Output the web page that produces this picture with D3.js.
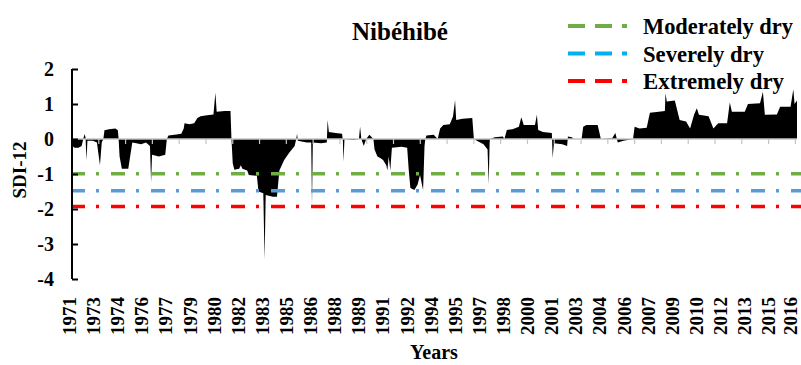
<!DOCTYPE html>
<html>
<head>
<meta charset="UTF-8">
<title>Nibéhibé SDI-12</title>
<script src="https://d3js.org/d3.v7.min.js"></script>
<style>
  body { margin: 0; background: #fff; }
  svg text { font-family: "Liberation Serif", "Times New Roman", serif; font-weight: bold; fill: #000; }
</style>
</head>
<body>
<svg id="chart" width="801" height="365"></svg>
<script>
// monthly SDI-12 series (time in decimal years, series starts July 1971)
const times = [
  1971.50, 1971.54, 1971.65, 1971.90, 1972.10, 1972.20, 1972.28, 1972.34, 1972.40, 1972.46,
  1972.80, 1973.05, 1973.24, 1973.35, 1973.45, 1973.52, 1973.80, 1974.20, 1974.35, 1974.40,
  1974.46, 1974.60, 1975.00, 1975.15, 1975.25, 1975.50, 1975.80, 1976.10, 1976.35, 1976.42,
  1976.48, 1976.90, 1977.30, 1977.40, 1977.50, 1978.00, 1978.30, 1978.45, 1978.50, 1978.80,
  1979.10, 1979.30, 1979.50, 1979.90, 1980.30, 1980.42, 1980.50, 1981.00, 1981.36, 1981.42,
  1981.50, 1981.60, 1981.90, 1982.00, 1982.10, 1982.40, 1982.50, 1983.00, 1983.10, 1983.40,
  1983.48, 1983.55, 1984.00, 1984.25, 1984.40, 1984.70, 1985.00, 1985.35, 1985.45, 1985.50,
  1985.55, 1986.10, 1986.38, 1986.43, 1986.48, 1987.00, 1987.35, 1987.40, 1987.48, 1987.90,
  1988.30, 1988.35, 1988.39, 1988.45, 1989.00, 1989.35, 1989.42, 1989.50, 1989.65, 1989.80,
  1990.00, 1990.25, 1990.32, 1990.50, 1990.70, 1990.85, 1991.05, 1991.12, 1991.20, 1991.30,
  1991.40, 1992.00, 1992.35, 1992.45, 1992.55, 1992.80, 1993.00, 1993.15, 1993.34, 1993.43,
  1993.48, 1993.55, 1994.00, 1994.25, 1994.40, 1994.60, 1995.00, 1995.20, 1995.33, 1995.40,
  1995.80, 1996.40, 1996.50, 1996.80, 1997.10, 1997.35, 1997.42, 1997.48, 1997.50, 1997.80,
  1998.30, 1998.40, 1998.55, 1998.90, 1999.30, 1999.45, 1999.60, 2000.30, 2000.42, 2000.50,
  2000.80, 2001.35, 2001.40, 2001.48, 2002.00, 2002.30, 2002.35, 2002.60, 2002.70, 2003.20,
  2003.30, 2003.50, 2004.20, 2004.40, 2005.10, 2005.30, 2005.45, 2005.80, 2006.40, 2006.50,
  2006.80, 2007.25, 2007.45, 2008.00, 2008.38, 2008.42, 2008.50, 2009.00, 2009.30, 2009.70,
  2009.95, 2010.20, 2010.37, 2010.50, 2011.10, 2011.40, 2011.70, 2012.25, 2012.42, 2012.55,
  2013.35, 2013.55, 2014.30, 2014.48, 2014.60, 2015.35, 2015.55, 2016.20, 2016.37, 2016.45,
  2016.60
];
const sdi = [
  0, -0.2, -0.25, -0.25, -0.2, 0, 0.14, 0.05, -0.6, -0.05,
  -0.05, -0.1, -0.75, -0.1, 0, 0.25, 0.28, 0.3, 0.25, 0,
  -0.5, -0.85, -0.85, -0.4, -0.1, -0.12, -0.15, -0.1, -0.2, -1.25,
  -0.45, -0.5, -0.45, 0, 0.1, 0.13, 0.15, 0.3, 0.45, 0.42,
  0.45, 0.6, 0.65, 0.68, 0.7, 1.32, 0.78, 0.8, 0.8, 0,
  -0.7, -0.88, -0.85, -0.75, -0.85, -0.9, -1.03, -1.05, -1.5, -1.55,
  -3.45, -1.6, -1.65, -1.65, -0.9, -0.6, -0.4, -0.2, 0, 0.15,
  -0.05, -0.1, -0.1, -1.9, -0.1, -0.12, -0.1, 0.54, 0.2, 0.17,
  0.15, -0.05, -0.65, 0, -0.03, 0, 0.35, 0, -0.2, 0,
  0.12, 0, -0.3, -0.5, -0.55, -0.6, -0.75, -0.9, -0.5, -0.9,
  -0.25, -0.22, -0.25, -0.9, -1.4, -1.46, -1.3, -1.03, -1.46, -0.2,
  0, 0.1, 0.12, 0, 0.3, 0.4, 0.42, 0.64, 1.11, 0.54,
  0.58, 0.6, 0, -0.08, -0.15, -0.3, -1.3, -0.1, 0, 0.05,
  0.07, 0, 0.26, 0.28, 0.35, 0.62, 0.4, 0.4, 0.69, 0.26,
  0.2, 0.17, -0.54, -0.12, -0.15, -0.2, 0.07, 0.05, 0, 0,
  0.35, 0.4, 0.4, 0, 0.02, 0.17, -0.1, -0.05, 0, 0.35,
  0.3, 0.32, 0.75, 0.78, 0.8, 1.31, 1.07, 1.1, 0.54, 0.5,
  0.3, 0.7, 0.88, 0.69, 0.65, 0.3, 0.45, 0.45, 1.04, 0.78,
  0.78, 1.0, 1.02, 1.35, 0.69, 0.7, 0.92, 0.92, 1.42, 1.0,
  1.1
];

// drought thresholds
const thresholdNames = ["Moderately dry", "Severely dry", "Extremely dry"];
const thresholdValues = [-0.99, -1.48, -1.93];
const lineColors = ["#70ad47", "#5b9bd5", "#ff0000"];
const legendColors = ["#70ad47", "#00b0f0", "#ff0000"];

// axis labels
const yTicks = [2, 1, 0, -1, -2, -3, -4];
const yearLabels = [1971, 1973, 1974, 1976, 1977, 1979, 1980, 1982, 1983, 1985, 1986, 1988,
  1989, 1991, 1992, 1994, 1995, 1997, 1998, 2000, 2001, 2003, 2004, 2006, 2007, 2009,
  2010, 2012, 2013, 2015, 2016];
const labelStepMonths = 18;
const tickStepMonths = 20;

const svg = d3.select("#chart");
const startYear = times[0];

const x = d3.scaleLinear().domain([startYear, times[times.length - 1]]).range([72, 797]);
const y = d3.scaleLinear().domain([-4, 2]).range([279, 69]);

const data = times.map((t, i) => ({ t: t, v: sdi[i] }));

// black area against the zero line
const area = d3.area()
  .x(d => x(d.t))
  .y0(y(0))
  .y1(d => y(d.v));

svg.append("path")
  .datum(data)
  .attr("d", area)
  .attr("fill", "#000");

// gray category axis on the zero line
const monthTicks = d3.range(0, 541, tickStepMonths).map(m => startYear + m / 12);
const zeroAxis = svg.append("g");
zeroAxis.append("line")
  .attr("x1", 72).attr("x2", 797)
  .attr("y1", y(0)).attr("y2", y(0))
  .attr("stroke", "#c4c4c4").attr("stroke-width", 1.5);
zeroAxis.selectAll(".zt")
  .data(monthTicks)
  .enter().append("line")
  .attr("class", "zt")
  .attr("x1", d => x(d)).attr("x2", d => x(d))
  .attr("y1", y(0)).attr("y2", y(0) + 5)
  .attr("stroke", "#c4c4c4").attr("stroke-width", 1.2);

// threshold lines (long dash - dot)
svg.selectAll(".thr")
  .data(thresholdValues)
  .enter().append("line")
  .attr("class", "thr")
  .attr("x1", 71).attr("x2", 801)
  .attr("y1", d => y(d)).attr("y2", d => y(d))
  .attr("stroke", (d, i) => lineColors[i])
  .attr("stroke-width", 3.5)
  .attr("stroke-dasharray", "14,11,3,12");

// y axis: ticks pointing inward
const yAxis = svg.append("g").attr("transform", "translate(72,0)")
  .call(d3.axisRight(y).tickValues(yTicks).tickSize(6).tickFormat(""));
yAxis.select(".domain").attr("stroke", "#000").attr("stroke-width", 2)
  .attr("d", `M0,${y(2)}V${y(-4)}`);
yAxis.selectAll(".tick line").attr("stroke", "#000").attr("stroke-width", 2);

svg.selectAll(".ylab")
  .data(yTicks)
  .enter().append("text")
  .attr("class", "ylab")
  .attr("x", 54)
  .attr("y", d => y(d))
  .attr("dy", "0.35em")
  .attr("text-anchor", "end")
  .attr("font-size", 20)
  .text(d => d);

// rotated year labels every 18 months (last one kept inside the frame)
svg.selectAll(".xlab")
  .data(yearLabels)
  .enter().append("text")
  .attr("class", "xlab")
  .attr("transform", (d, i) => {
    const px = Math.min(x(startYear + i * labelStepMonths / 12) + 4, 796.5);
    return `translate(${px},297) rotate(-90)`;
  })
  .attr("text-anchor", "end")
  .attr("font-size", 19)
  .text(d => d);

// axis titles
svg.append("text")
  .attr("transform", "translate(26,170) rotate(-90)")
  .attr("text-anchor", "middle")
  .attr("font-size", 19)
  .text("SDI-12");

svg.append("text")
  .attr("x", 434).attr("y", 359)
  .attr("text-anchor", "middle")
  .attr("font-size", 20)
  .text("Years");

// title
svg.append("text")
  .attr("x", 400).attr("y", 40)
  .attr("text-anchor", "middle")
  .attr("font-size", 25)
  .text("Nibéhibé");

// legend
const legendWidths = [150, 121, 141];
const legend = svg.selectAll(".leg")
  .data(thresholdNames)
  .enter().append("g")
  .attr("class", "leg")
  .attr("transform", (d, i) => `translate(0,${i * 27.5})`);

legend.append("line")
  .attr("x1", 568).attr("x2", 627)
  .attr("y1", 26).attr("y2", 26)
  .attr("stroke", (d, i) => legendColors[i])
  .attr("stroke-width", 4)
  .attr("stroke-dasharray", "17,10");

legend.append("text")
  .attr("x", 643).attr("y", 34)
  .attr("font-size", 23)
  .attr("textLength", (d, i) => legendWidths[i])
  .attr("lengthAdjust", "spacingAndGlyphs")
  .text(d => d);
</script>
</body>
</html>
